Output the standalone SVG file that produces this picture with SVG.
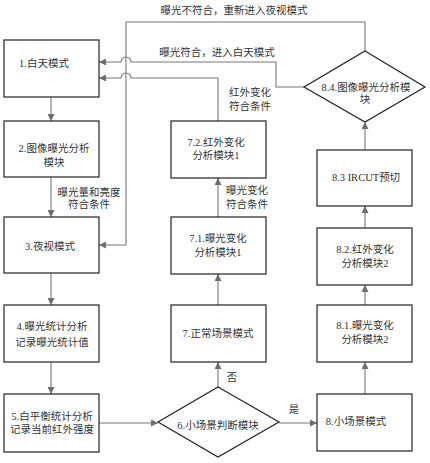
<svg xmlns="http://www.w3.org/2000/svg" width="430" height="463" viewBox="0 0 430 463">
<defs>
<marker id="ah" viewBox="0 0 10 10" refX="10" refY="5" markerWidth="7" markerHeight="7" markerUnits="userSpaceOnUse" orient="auto">
<path d="M0,0 L10,5 L0,10 Z" fill="#6e6e6e"/>
</marker>
<style>
.box{fill:#fff;stroke:#222;stroke-width:1.2}
.t{font-family:"Liberation Serif","Noto Sans CJK SC",serif;font-size:10.5px;fill:#333;text-anchor:middle}
.l{font-family:"Liberation Serif","Noto Sans CJK SC",serif;font-size:10.5px;fill:#333}
.c{fill:none;stroke:#777;stroke-width:1.1}
.a{fill:none;stroke:#777;stroke-width:1.1;marker-end:url(#ah)}
</style>
</defs>
<rect width="430" height="463" fill="#fff"/>
<g id="connectors">
<path class="a" d="M51,97 V121"/>
<path class="a" d="M51,177 V217"/>
<path class="a" d="M51,273 V305"/>
<path class="a" d="M51,362 V394"/>
<path class="a" d="M99,423 H158"/>
<path class="a" d="M218,387 V362"/>
<path class="a" d="M218,305 V274"/>
<path class="a" d="M218,217 V178"/>
<path class="a" d="M279,423 H317"/>
<path class="a" d="M365,394 V362"/>
<path class="a" d="M365,305 V285"/>
<path class="a" d="M365,228 V206"/>
<path class="a" d="M365,150 V122"/>
<path class="a" d="M365,51 V22 H126 V245 H99"/>
<path class="a" d="M304,87 H276 V62 H131 A5,5 0 0 0 121,62 H99"/>
<path class="a" d="M218,121 V78 H131 A5,5 0 0 0 121,78 H99"/>
</g>
<g id="n1"><rect class="box" x="4" y="40" width="95" height="57"/><text class="t" x="44" y="67">1.白天模式</text></g>
<g id="n2"><rect class="box" x="4" y="121" width="95" height="56"/><text class="t" x="54" y="152">2.图像曝光分析</text><text class="t" x="54" y="166">模块</text></g>
<g id="n3"><rect class="box" x="4" y="217" width="95" height="56"/><text class="t" x="50" y="250">3.夜视模式</text></g>
<g id="n4"><rect class="box" x="4" y="305" width="95" height="57"/><text class="t" x="52" y="330">4.曝光统计分析</text><text class="t" x="52" y="346">记录曝光统计值</text></g>
<g id="n5"><rect class="box" x="4" y="394" width="95" height="58"/><text class="t" x="52" y="420">5.白平衡统计分析</text><text class="t" x="52" y="433">记录当前红外强度</text></g>
<g id="n6"><path class="box" d="M218,387 L279,422 L218,457 L158,422 Z"/><text class="t" x="218" y="429">6.小场景判断模块</text></g>
<g id="n7"><rect class="box" x="171" y="305" width="95" height="57"/><text class="t" x="218" y="337">7.正常场景模式</text></g>
<g id="n71"><rect class="box" x="171" y="217" width="95" height="57"/><text class="t" x="218" y="242">7.1.曝光变化</text><text class="t" x="218" y="256">分析模块1</text></g>
<g id="n72"><rect class="box" x="171" y="121" width="95" height="57"/><text class="t" x="216" y="146">7.2.红外变化</text><text class="t" x="216" y="159">分析模块1</text></g>
<g id="n8"><rect class="box" x="317" y="394" width="95" height="57"/><text class="t" x="356" y="425">8.小场景模式</text></g>
<g id="n81"><rect class="box" x="317" y="305" width="95" height="57"/><text class="t" x="365" y="329">8.1.曝光变化</text><text class="t" x="365" y="343">分析模块2</text></g>
<g id="n82"><rect class="box" x="317" y="228" width="95" height="57"/><text class="t" x="365" y="253">8.2.红外变化</text><text class="t" x="365" y="267">分析模块2</text></g>
<g id="n83"><rect class="box" x="317" y="150" width="95" height="56"/><text class="t" x="366" y="181">8.3 IRCUT预切</text></g>
<g id="n84"><path class="box" d="M365,51 L425,87 L365,122 L304,87 Z"/><text class="t" x="366" y="91">8.4.图像曝光分析模</text><text class="t" x="365" y="103">块</text></g>
<g id="labels">
<text class="t" x="234" y="14">曝光不符合，重新进入夜视模式</text>
<text class="t" x="217" y="56">曝光符合，进入白天模式</text>
<text class="t" x="250" y="96">红外变化</text>
<text class="t" x="250" y="110">符合条件</text>
<text class="t" x="89" y="196">曝光量和亮度</text>
<text class="t" x="89" y="208">符合条件</text>
<text class="l" x="226" y="194">曝光变化</text>
<text class="l" x="226" y="208">符合条件</text>
<text class="t" x="232" y="381">否</text>
<text class="t" x="294" y="413">是</text>
</g>
</svg>
